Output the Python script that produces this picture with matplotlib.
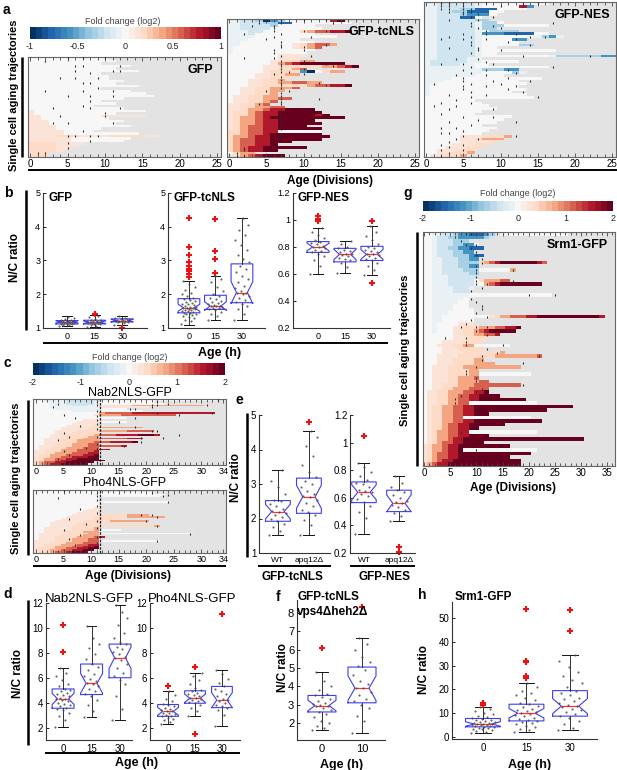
import numpy as np
import matplotlib
matplotlib.use('Agg')
import matplotlib.pyplot as plt
from matplotlib.lines import Line2D
from matplotlib.colors import Normalize
from matplotlib.cm import ScalarMappable

plt.rcParams['font.family'] = ['Liberation Sans', 'DejaVu Sans']

# colour levels used in the trajectory strings (fraction of the colour range)
LEVELS = {'a': -1.0, 'b': -0.75, 'c': -0.55, 'd': -0.35, 'e': -0.18, 'f': -0.08,
          '0': 0.0, '1': 0.1, '2': 0.22, '3': 0.38, '4': 0.55, '5': 0.75, '6': 1.0}

# ---- panel a : single cell trajectories (one string per cell, one char per division)
gfp_rows = [
    "00000000000", "000000000000", "0000000000", "00000000000000", "000000000000",
    "000000000000000", "0000000000", "00000000000", "00000000000", "0000000000000",
    "000000000000", "000000000000000", "0000000000", "00000000000000", "0000000000000000",
    "00000000000000000", "0000000000000", "0000000000", "000000000000", "000000000",
    "0000000000000", "1000000000000000", "100000000000", "1100000000111111", "11000000000",
    "1110000000000", "111000000000", "11110000000000", "1111000000", "111110000",
    "111110000000000", "111122211112222211", "11111100000000", "1111110000000", "22221111",
    "2222111", "222211", "22221", "222", "222",
]
gfp_dots = [(0, 5), (0, 7), (0, 10), (1, 2), (3, 6), (3, 7), (3, 12), (5, 6), (5, 11), (5, 12),
            (6, 8), (8, 4), (8, 6), (8, 9), (10, 7), (10, 8), (12, 9), (13, 2), (13, 7), (13, 11),
            (15, 5), (15, 8), (15, 11), (17, 8), (19, 7), (20, 3), (20, 8), (20, 12), (22, 10),
            (23, 4), (23, 10), (26, 3), (26, 5), (26, 11), (29, 7), (31, 5), (31, 6), (31, 8),
            (31, 9), (33, 8), (34, 5), (36, 5), (38, 1), (38, 2)]

tc_rows = [
    "ffeedacd00000056", "ffeeeddbb00000000", "ffeeeed00000", "ffeeee0000000",
    "fffee000002344556", "fffe00000000", "ffff00000000000", "fff0000000", "ff0000000000",
    "ff0000000123443", "f000000001234", "f00000000000", "f0000000000", "00000001111",
    "0000000111", "000000112233", "0000001345666666", "000001122222233456", "00000112234",
    "0000012222ca0233", "0000112233", "000011222", "00011223", "0001122334433",
    "00011222222344556", "0011223334", "00112233", "0011223", "0112233", "011223344",
    "0112234", "112234", "11223344", "112334556666", "1223455666666", "12234556666656",
    "1233456666666666", "123345566666", "1233455666666", "12344556666", "1234455666666",
    "2234455000000", "2234456666666", "23345566666666", "2344556666666", "234455666",
    "2344556", "23455666666", "2345566", "0233", " 2345666",
]
tc_dots = [(0, 5), (0, 7), (0, 10), (0, 13), (1, 4), (1, 7), (1, 14), (2, 3), (2, 6), (3, 6),
           (4, 6), (4, 10), (4, 13), (5, 2), (5, 7), (6, 6), (6, 11), (7, 5), (8, 7), (9, 7),
           (9, 13), (10, 7), (10, 10), (11, 6), (11, 10), (12, 6), (13, 7), (13, 11), (14, 2),
           (14, 6), (15, 7), (15, 10), (16, 7), (16, 13), (17, 7), (17, 14), (18, 7), (18, 10),
           (19, 7), (19, 8), (20, 6), (20, 10), (21, 7), (22, 7), (23, 7), (23, 12), (24, 7),
           (24, 13), (25, 7), (26, 5), (26, 8), (27, 7), (28, 7), (29, 7), (29, 12), (30, 7),
           (31, 4), (31, 7), (33, 7), (33, 11), (35, 7), (36, 7), (37, 7), (38, 7), (40, 7),
           (42, 7), (44, 7), (47, 2), (48, 2), (49, 1), (50, 1), (50, 2)]

nes_rows = [
    "ffeeeeef000000000", "ffeeeeef000005c", "ffeeeddbbb0000", "ffeeddbbb00", "ffeeedccc0",
    "ffeeebb0", "ffeeeeedd", "ffeeeeefdd0", "ffeeeeefddd000000", "ffeeeeefdd",
    "ffeeeeef0dddd", "ffeeeeefcccbbbb00", "ffeeeeef0000000fdcf", "ffeeeeef0000cc", "ffeeeeef00000",
    "ffeeeeef00000dd", "ffeeeeef00", "ffeeeeef0000000000", "ffeeeeef00", "ffeeeeef000000000fddddddcc",
    "ffeeeeff", "feeeeeff00000", "feeeeff00", "fffffff0000000000", "ffffffffdddcc",
    "ffffffff0000df", "fffffff0000", "ffff000000000000", "fff0000000000", "ff000000000000",
    "f000000000000", "f0000000000000", "f00000000000", "f0000000000000", "000000000000000",
    "0000000", "00000000", "000000000", "0000000000", "00000000",
    "0000000", "000000000000", "00000000000", "0000000000", "00000000",
    "0000000000", "000000000", "00000000", "000001112223", "00000112333",
    "0000011112", "000011122", "00011122", "0011122", "0011223", "011223",
]
nes_dots = [(0, 2), (0, 3), (0, 5), (0, 8), (0, 13), (0, 15), (1, 2), (1, 3), (1, 5), (1, 10),
            (1, 13), (2, 2), (2, 3), (2, 5), (2, 6), (3, 3), (3, 5), (3, 6), (4, 5), (4, 7),
            (5, 6), (5, 9), (6, 3), (6, 7), (7, 6), (7, 17), (8, 6), (8, 9), (9, 7), (9, 10),
            (10, 8), (11, 5), (11, 8), (11, 12), (12, 3), (12, 6), (12, 14), (12, 16), (13, 2),
            (13, 5), (13, 8), (13, 12), (14, 6), (14, 11), (15, 6), (15, 14), (16, 3), (16, 7),
            (17, 7), (17, 10), (18, 6), (19, 13), (19, 22), (20, 4), (20, 7), (21, 8), (22, 2),
            (22, 5), (22, 9), (23, 6), (23, 17), (24, 5), (24, 8), (24, 11), (25, 6), (25, 12),
            (26, 4), (26, 8), (27, 5), (27, 11), (28, 5), (28, 9), (28, 14), (29, 1), (29, 6),
            (29, 10), (30, 5), (30, 8), (30, 12), (31, 5), (31, 11), (32, 6), (32, 13), (33, 3),
            (33, 8), (34, 6), (34, 15), (35, 4), (36, 2), (36, 6), (37, 1), (37, 4), (38, 3),
            (38, 9), (40, 2), (41, 5), (41, 9), (42, 7), (43, 3), (43, 12), (44, 6), (45, 2),
            (45, 4), (46, 5), (47, 2), (47, 3), (48, 5), (48, 12), (49, 4), (49, 7), (50, 3),
            (51, 2), (51, 5), (52, 3), (53, 2), (53, 5), (54, 3), (55, 2)]

# ---- panel c
nab_rows = [
    "00ffffeeeeee0000000000000000000000", "00ffffeeeeef0000000000", "000fffeeeeef000000000000",
    "000ffffeeeff1122223333333333333", "000fffffffff111111111", "0000ffffffff00000ee",
    "0000000fffff00000000", "000000000000344444555555555555555", "00000000000133334444444444",
    "000000000000", "00000000000000000", "000000000111", "00000000111100000", "000000011111",
    "000000111112", "00000111112233333333", "000001111122", "0000111122223333344444",
    "000011122222", "00011122222344455556665", "000111222233", "00111222233344444555",
    "001112223333", "0011122233344455556", "001122233344", "01112223334444445",
    "011222333444", "01122333444455", "112223334445", "112233344455", "122333444556",
    "122334455566", "123344556666", "1233455666666", "23445566666", "2345566666",
]
nab_dots = [(0, 33), (1, 22), (2, 24), (3, 21), (3, 22), (3, 31), (4, 21), (5, 17), (5, 18),
            (7, 22), (7, 32), (8, 26), (10, 18), (12, 15), (15, 18), (17, 21), (17, 22), (19, 26),
            (21, 19), (21, 23), (23, 19), (25, 16), (2, 4), (4, 3), (8, 5), (10, 7), (14, 8),
            (18, 5), (20, 6), (22, 4), (26, 9), (28, 5), (30, 6), (32, 4), (1, 11), (3, 11),
            (6, 11), (9, 11), (11, 11), (13, 11), (16, 11), (20, 11), (24, 11), (27, 11),
            (31, 11), (34, 11)]
nab_cutoff = 12

pho_rows = [
    "000000000000", "0000000000000000000000", "000000000000000000000000", "00000000000000000000000",
    "000000000000", "000000000000", "0000000000000000000000000", "000000000000", "000000000000",
    "000000000001", "000000000011", "000000000111", "000000001111", "000000011111222223333",
    "000000111112222223333333", "0000011111122222", "000011111222223333333", "000111111222222222222",
    "000111112222", "00011112222222222222223", "001111122223", "0011111222230000",
    "001111222333", "01111122223300000000000000000", "011112222333", "0111222233345",
    "011122233344", "11112223334400000000000", "111222333444", "112223334455",
    "112233344556", "122233445566", "12233445566", "1223445666",
]
pho_dots = [(0, 5), (1, 21), (2, 24), (3, 23), (6, 24), (4, 4), (13, 19), (13, 21), (14, 22),
            (16, 20), (19, 22), (23, 28), (27, 22), (10, 8), (15, 6), (18, 9), (21, 5), (24, 8),
            (26, 6), (29, 7), (1, 11), (3, 11), (5, 11), (8, 11), (12, 11), (16, 11), (20, 11),
            (25, 11), (28, 11), (31, 11)]
pho_cutoff = 12

# ---- panel g
srm_rows = [
    "00ffeedccbbbcdef000000000000", "00feeddcccccde", "00feeeddd", "00feeeddcc0", "00feeddccbbb",
    "00feeeddcc", "00feeedddcbb", "00ffeeeddcc", "00ffeeedddd2345666666654", "00ffeeeddcc",
    "00ffeeeeddd0000003", "00ffeeeeedd", "00fffeeeeee", "00fffeeeee0233344", "00fffeeeee0034566666666",
    "00ffffeeef", "00ffffeee", "00fffffff0000000000000000", "00ffffff0", "00fffff00",
    "00ffff000", "00ffff0000", "00fff00000", "00ff0000000001233444556666666666665", "00ff000000",
    "00f0000111", "00f0001122233344556", "00f000112234566666", "000000112233445", "0000001112222",
    "000011112222", "00011122330000000", "000011122222", "0000111122222223", "00011112222222333333334",
    "000111222233", "00011122223333", "0011122233333333333", "00111222233", "001112222330000000000",
    "00111223334", "0011122333344", "0011222333444444444", "0011223334444", "0112233344556",
    "011223344556666", "01122334455666666666", "0112233440000000000000", "01223344556666666666666666666",
    "012233445566666666666666", "0122334455666", "012233440000000000000", "01223344556666666666666",
    "0122344556666666", "01223445566", "0123344550000000000000", "0123344556666",
    "0123345566666666666666666666666", "012344556666", "12334556666666666", "1233455600000000000000",
    "123445566666666666666", "12344556666666666", "1234556666666666666", "2345566666666666666",
]
srm_dots = [(0, 8), (0, 9), (1, 6), (2, 7), (3, 8), (3, 10), (4, 9), (5, 10), (6, 10), (7, 11),
            (8, 11), (9, 10), (10, 10), (10, 17), (11, 10), (12, 10), (13, 10), (13, 17), (14, 10),
            (14, 12), (15, 11), (16, 9), (17, 20), (17, 25), (18, 9), (19, 10), (20, 11), (21, 11),
            (22, 10), (23, 12), (24, 9), (25, 8), (26, 7), (26, 10), (26, 12), (27, 10), (27, 13),
            (28, 12), (29, 4), (29, 8), (30, 8), (31, 8), (31, 15), (32, 12), (33, 14), (34, 11),
            (34, 22), (35, 11), (36, 19), (37, 10), (38, 8), (39, 8), (40, 10), (41, 10), (42, 19),
            (43, 11), (44, 10), (45, 7), (46, 6), (47, 6), (48, 10), (50, 10), (52, 10), (55, 7),
            (57, 7), (58, 8), (60, 10), (62, 10)]

# ---- box plot data: N/C ratio per group (points) and box statistics [med, q1, q3, lo, hi]
b_gfp_pts = [
    [1.06, 1.08, 1.1, 1.11, 1.12, 1.13, 1.14, 1.15, 1.16, 1.17, 1.17, 1.18, 1.18, 1.19, 1.2, 1.2, 1.21, 1.22, 1.23, 1.25, 1.27, 1.3, 1.34],
    [1.04, 1.07, 1.1, 1.12, 1.13, 1.14, 1.15, 1.16, 1.17, 1.17, 1.18, 1.19, 1.2, 1.21, 1.22, 1.23, 1.25, 1.28, 1.32, 1.37],
    [1.1, 1.14, 1.17, 1.19, 1.2, 1.21, 1.22, 1.22, 1.23, 1.24, 1.25, 1.26, 1.27, 1.29, 1.31, 1.35]]
b_gfp_box = [[1.18, 1.12, 1.22, 1.05, 1.35], [1.17, 1.12, 1.23, 1.02, 1.38], [1.22, 1.18, 1.27, 1.1, 1.36]]
b_gfp_fl = [[], [1.4, 1.42], [1.0]]

b_tc_pts = [
    [1.12, 1.2, 1.25, 1.3, 1.33, 1.36, 1.38, 1.4, 1.42, 1.44, 1.45, 1.47, 1.49, 1.5, 1.52, 1.54, 1.55, 1.57, 1.58, 1.6,
     1.6, 1.62, 1.63, 1.65, 1.67, 1.7, 1.72, 1.75, 1.78, 1.8, 1.83, 1.86, 1.9, 1.95, 2.0, 2.05, 2.12, 2.2, 2.3, 2.38],
    [1.25, 1.35, 1.42, 1.48, 1.52, 1.55, 1.58, 1.6, 1.62, 1.64, 1.65, 1.66, 1.68, 1.7, 1.73, 1.76, 1.8, 1.85, 1.9, 1.95,
     2.0, 2.1, 2.2, 2.35, 2.45, 2.55],
    [1.25, 1.4, 1.55, 1.65, 1.72, 1.78, 1.82, 1.88, 1.95, 2.0, 2.05, 2.05, 2.1, 2.18, 2.25, 2.35, 2.45, 2.55, 2.65, 2.75,
     2.85, 2.95, 3.05, 3.15, 3.3, 3.45, 3.6, 3.75, 3.9, 4.05, 4.25]]
b_tc_box = [[1.6, 1.45, 1.87, 1.1, 2.38], [1.65, 1.55, 1.97, 1.25, 2.55], [2.05, 1.75, 2.9, 1.25, 4.25]]
b_tc_fl = [[2.5, 2.6, 2.7, 2.75, 2.85, 2.95, 3.15, 3.4, 4.27], [2.62, 3.05, 3.27, 4.23], []]

b_nes_pts = [
    [0.6, 0.66, 0.7, 0.73, 0.75, 0.76, 0.77, 0.78, 0.79, 0.8, 0.8, 0.81, 0.82, 0.83, 0.84, 0.85, 0.87, 0.89, 0.91, 0.94],
    [0.61, 0.65, 0.68, 0.7, 0.71, 0.72, 0.73, 0.74, 0.75, 0.75, 0.76, 0.77, 0.78, 0.79, 0.8, 0.82, 0.845],
    [0.59, 0.63, 0.66, 0.68, 0.7, 0.71, 0.72, 0.73, 0.74, 0.75, 0.75, 0.76, 0.77, 0.78, 0.79, 0.8, 0.82, 0.85, 0.88, 0.91, 0.955]]
b_nes_box = [[0.8, 0.76, 0.84, 0.6, 0.94], [0.745, 0.69, 0.79, 0.61, 0.845], [0.745, 0.7, 0.805, 0.59, 0.955]]
b_nes_fl = [[0.99, 1.01, 1.03], [], [0.53, 0.99]]

d_nab_pts = [
    [2.05, 2.6, 2.9, 3.2, 3.4, 3.5, 3.6, 3.7, 3.8, 3.9, 4.0, 4.1, 4.2, 4.3, 4.3, 4.4, 4.5, 4.6, 4.7, 4.8, 4.9, 5.0, 5.1,
     5.3, 5.5, 5.8, 6.1, 6.4, 6.75],
    [2.85, 3.3, 3.8, 4.2, 4.5, 4.7, 4.9, 5.1, 5.3, 5.5, 5.6, 5.7, 5.9, 6.1, 6.3, 6.6, 6.9, 7.1, 7.5, 7.9, 8.4, 8.7, 9.2, 10.15],
    [2.6, 3.5, 4.5, 5.5, 5.8, 6.1, 6.4, 6.8, 7.1, 7.4, 7.6, 7.7, 7.9, 8.1, 8.3, 8.5, 8.7, 8.9, 9.2, 9.6, 10.2, 10.8, 11.3, 11.8]]
d_nab_box = [[4.3, 3.55, 5.1, 2.05, 6.75], [5.55, 4.65, 7.1, 2.85, 10.15], [7.6, 6.0, 8.7, 2.6, 11.8]]
d_nab_fl = [[8.1, 10.25], [], []]

d_pho_pts = [
    [2.25, 2.45, 2.6, 2.7, 2.8, 2.9, 2.95, 3.0, 3.1, 3.15, 3.2, 3.3, 3.3, 3.4, 3.5, 3.6, 3.7, 3.8, 3.9, 4.1, 4.3, 4.6, 4.9],
    [2.95, 3.3, 3.6, 3.8, 3.95, 4.05, 4.15, 4.25, 4.3, 4.35, 4.4, 4.5, 4.6, 4.7, 4.8, 4.9, 5.0, 5.2, 5.5, 5.8, 6.1, 6.4],
    [2.1, 3.0, 3.4, 3.6, 3.7, 3.85, 4.0, 4.1, 4.2, 4.3, 4.5, 4.7, 4.9, 5.1, 5.3, 5.6, 5.9, 6.3, 6.65]]
d_pho_box = [[3.3, 2.9, 3.85, 2.25, 4.9], [4.35, 3.95, 4.95, 2.95, 6.4], [4.2, 3.6, 5.3, 2.1, 6.65]]
d_pho_fl = [[5.3], [6.85, 1.5], [11.1]]

e_tc_pts = [
    [1.52, 1.65, 1.75, 1.85, 1.92, 1.98, 2.05, 2.1, 2.15, 2.2, 2.22, 2.28, 2.35, 2.42, 2.5, 2.55, 2.7, 2.9, 3.1, 3.4],
    [1.52, 1.8, 1.95, 2.1, 2.18, 2.25, 2.35, 2.45, 2.55, 2.62, 2.65, 2.72, 2.8, 2.9, 3.0, 3.1, 3.2, 3.35, 3.55, 3.8,
     4.1, 4.35, 4.55]]
e_tc_box = [[2.2, 1.92, 2.52, 1.52, 3.4], [2.63, 2.15, 3.17, 1.52, 4.55]]
e_tc_fl = [[], [4.8]]

e_nes_pts = [
    [0.34, 0.45, 0.5, 0.54, 0.57, 0.59, 0.61, 0.63, 0.64, 0.65, 0.66, 0.68, 0.7, 0.71, 0.73, 0.76, 0.79, 0.82, 0.85],
    [0.435, 0.47, 0.49, 0.51, 0.53, 0.55, 0.56, 0.57, 0.58, 0.6, 0.62, 0.64, 0.66, 0.68, 0.71, 0.755]]
e_nes_box = [[0.64, 0.565, 0.715, 0.34, 0.85], [0.56, 0.5, 0.655, 0.435, 0.755]]
e_nes_fl = [[1.05], [0.21, 0.24]]

f_pts = [
    [1.6, 1.7, 1.85, 2.0, 2.1, 2.3, 2.5, 2.6, 2.7, 2.8, 2.9, 2.95, 3.0, 3.05, 3.1, 3.2, 3.3, 3.4, 3.5, 3.6, 3.8, 4.0, 4.3, 4.8],
    [1.45, 2.1, 2.4, 2.8, 3.0, 3.2, 3.3, 3.5, 3.7, 3.9, 3.9, 4.1, 4.3, 4.6, 4.9, 5.1, 5.3, 5.6, 6.0, 6.3, 6.65]]
f_box = [[2.95, 2.6, 3.5, 1.6, 4.8], [3.9, 3.1, 5.05, 1.45, 6.65]]
f_fl = [[6.1], [8.35]]

h_pts = [
    [1.8, 2.2, 2.6, 3.0, 3.3, 3.6, 3.8, 4.0, 4.2, 4.4, 4.5, 4.7, 4.9, 5.0, 5.2, 5.3, 5.5, 5.6, 5.8, 6.0, 6.2, 6.5, 6.8,
     7.0, 7.3, 7.6, 7.9, 8.3, 8.8, 9.5, 10.2, 11.0, 11.8, 12.8],
    [2.2, 2.8, 3.5, 4.2, 4.8, 5.5, 6.0, 6.5, 6.9, 7.3, 7.8, 8.2, 8.7, 9.2, 9.6, 10.0, 10.4, 10.9, 11.4, 12.0, 12.6, 13.2,
     13.8, 14.5, 15.5, 16.5, 17.5, 18.5, 19.5, 21.0, 22.8],
    [2.8, 4.0, 5.5, 6.8, 8.0, 8.8, 9.6, 10.5, 11.3, 12.0, 12.6, 13.0, 13.6, 14.3, 15.0, 15.8, 16.6, 17.5, 18.5, 19.5,
     21.0, 22.5, 24.0, 25.5, 27.5, 29.5, 32.0, 34.5]]
h_box = [[5.5, 4.3, 7.8, 1.8, 12.8], [10.0, 6.8, 13.8, 2.2, 22.8], [13.0, 8.8, 19.5, 2.8, 34.5]]
h_fl = [[13.5, 13.8, 14.2], [25.0, 25.5, 31.5, 32.0, 53.8], [44.5, 53.5]]

hours = ['0', '15', '30']

# ------------------------------------------------------------------ drawing
W, H = 617, 770
fig = plt.figure(figsize=(W / 100, H / 100), dpi=100)
CMAP = plt.get_cmap('RdBu_r', 31)
BG = '#e3e3e3'


def px_axes(l, t, r, b):
    return fig.add_axes([l / W, 1 - b / H, (r - l) / W, (b - t) / H])


def ftext(x, y, s, **kw):
    kw.setdefault('va', 'center')
    fig.text(x / W, 1 - y / H, s, **kw)


def fline(x0, y0, x1, y1, lw=1.5):
    fig.add_artist(Line2D([x0 / W, x1 / W], [1 - y0 / H, 1 - y1 / H], color='k', lw=lw,
                          solid_capstyle='butt'))


def heatmap(ax, rows, dots, vmax, xlim, major, tsize=7):
    n = len(rows)
    m = max(len(r) for r in rows)
    z = np.full((n, m), np.nan)
    for i, r in enumerate(rows):
        for j, ch in enumerate(r):
            if ch != ' ':
                z[i, j] = LEVELS[ch] * vmax
    ax.set_facecolor(BG)
    ax.pcolormesh(np.arange(m + 1) - 0.5, np.arange(n + 1), np.ma.masked_invalid(z),
                  cmap=CMAP, vmin=-vmax, vmax=vmax)
    rr, dd = zip(*dots)
    ax.scatter(dd, np.array(rr) + 0.5, s=3.5, marker='|', c='#2b2b2b', linewidths=0.8, zorder=3)
    ax.set_xlim(*xlim)
    ax.set_ylim(n, 0)
    ax.set_yticks([])
    ax.set_xticks(major)
    ax.set_xticks(np.arange(0, int(xlim[1]) + 1), minor=True)
    ax.tick_params(axis='x', which='both', direction='in', top=True, labelsize=tsize, pad=1.5,
                   color='#444', width=0.6)
    ax.tick_params(axis='x', which='major', length=3)
    ax.tick_params(axis='x', which='minor', length=2)
    for s in ax.spines.values():
        s.set_color('#666')
        s.set_linewidth(0.8)


def colorbar(l, t, r, b, vmax, ticks, labels, title_x, title_y):
    cax = px_axes(l, t, r, b)
    sm = ScalarMappable(norm=Normalize(-vmax, vmax), cmap=CMAP)
    cb = fig.colorbar(sm, cax=cax, orientation='horizontal')
    cb.outline.set_visible(False)
    cb.set_ticks(ticks)
    cb.set_ticklabels(labels)
    cax.tick_params(length=0, labelsize=6.5, pad=2, labelcolor='#222')
    ftext(title_x, title_y, 'Fold change (log2)', ha='center', fontsize=6.5, color='#444')


def boxes(ax, pts, box, fl, width, xlim, ylim, yticks, xlabels, tick_size=6.5):
    stats = []
    for i, p in enumerate(pts):
        med, q1, q3, lo, hi = box[i]
        half = 1.57 * (q3 - q1) / np.sqrt(len(p))
        stats.append(dict(med=med, q1=q1, q3=q3, whislo=lo, whishi=hi,
                          cilo=med - half, cihi=med + half, fliers=fl[i]))
    pos = np.arange(1, len(pts) + 1)
    ax.bxp(stats, positions=pos, widths=width, shownotches=True, capwidths=width * 0.45,
           boxprops=dict(color='#3d3df2', lw=0.8),
           medianprops=dict(color='#ff3030', lw=0.9),
           whiskerprops=dict(color='#111', lw=0.6),
           capprops=dict(color='#111', lw=0.7),
           flierprops=dict(marker='+', markeredgecolor='#ee1111', markersize=4.5,
                           markeredgewidth=1.5, clip_on=False))
    for i, p in enumerate(pts):
        k = np.arange(len(p))
        off = ((k * 0.6180339) % 1 - 0.5) * width * 0.7
        ax.scatter(pos[i] + off, p, s=2.4, c='#4a4a4a', alpha=0.85, lw=0, zorder=3)
    ax.set_xlim(*xlim)
    ax.set_ylim(*ylim)
    ax.set_yticks(yticks)
    ax.set_xticks(pos)
    ax.set_xticklabels(xlabels)
    for s in ('top', 'right'):
        ax.spines[s].set_visible(False)
    for s in ('left', 'bottom'):
        ax.spines[s].set_linewidth(0.8)
        ax.spines[s].set_color('#333')
    ax.tick_params(direction='in', length=2, width=0.6, labelsize=tick_size, pad=2)
    ax.tick_params(axis='x', length=0, pad=3)


bold = dict(fontweight='bold')

# ---------------- panel a
colorbar(30, 27, 221, 39, 1, [-1, -0.5, 0, 0.5, 1], ['-1', '-0.5', '0', '0.5', '1'], 123, 22)
ax = px_axes(28, 57, 221, 157)
heatmap(ax, gfp_rows, gfp_dots, 1, (-0.3, 25.5), np.arange(0, 26, 5))
ftext(213, 70, 'GFP', ha='right', fontsize=9, **bold)
ax = px_axes(227, 19, 419, 157)
heatmap(ax, tc_rows, tc_dots, 1, (-0.3, 25.5), np.arange(0, 26, 5))
ftext(414, 32, 'GFP-tcNLS', ha='right', fontsize=9, **bold)
ax = px_axes(424, 2, 616, 157)
heatmap(ax, nes_rows, nes_dots, 1, (-0.3, 25.5), np.arange(0, 26, 5))
ftext(610, 15, 'GFP-NES', ha='right', fontsize=9, **bold)
fline(22, 57, 22, 157, lw=1.8)
fline(28, 170, 617, 170, lw=1.4)
ftext(14, 95, 'Single cell aging trajectories', ha='center', rotation=90, fontsize=8, **bold)
ftext(330, 181, 'Age (Divisions)', ha='center', fontsize=8.5, **bold)
ftext(3, 10, 'a', fontsize=10, **bold)

# ---------------- panel b
ax = px_axes(43, 193, 147, 328)
boxes(ax, b_gfp_pts, b_gfp_box, b_gfp_fl, 0.8, (0.13, 3.9), (1, 5), [1, 2, 3, 4, 5], hours)
ax = px_axes(168, 193, 265, 328)
boxes(ax, b_tc_pts, b_tc_box, b_tc_fl, 0.82, (0.21, 3.87), (1, 5), [1, 2, 3, 4, 5], hours)
ax = px_axes(293, 193, 390, 328)
boxes(ax, b_nes_pts, b_nes_box, b_nes_fl, 0.82, (0.07, 3.67), (0.2, 1.2),
      [0.2, 0.4, 0.6, 0.8, 1.0, 1.2], hours)
ax.set_yticklabels(['0.2', '0.4', '0.6', '0.8', '1', '1.2'])
ftext(48, 198, 'GFP', fontsize=8.5, **bold)
ftext(173, 198, 'GFP-tcNLS', fontsize=8.5, **bold)
ftext(298, 198, 'GFP-NES', fontsize=8.5, **bold)
fline(26, 190, 26, 330, lw=1.8)
fline(43, 343, 388, 343, lw=1.4)
ftext(15, 258, 'N/C ratio', ha='center', rotation=90, fontsize=8.5, **bold)
ftext(220, 353, 'Age (h)', ha='center', fontsize=9, **bold)
ftext(4, 193, 'b', fontsize=10, **bold)

# ---------------- panel c
colorbar(33, 363, 225, 375, 2, [-2, -1, 0, 1, 2], ['-2', '-1', '0', '1', '2'], 130, 357)
ax = px_axes(33, 399, 226, 465)
heatmap(ax, nab_rows, nab_dots, 2, (-0.55, 34.5), [0, 5, 10, 15, 20, 25, 30, 34], 6.5)
ax.axvline(nab_cutoff - 0.3, color='#222', lw=0.9, ls=(0, (2, 1)))
ftext(130, 393, 'Nab2NLS-GFP', ha='center', fontsize=9)
ax = px_axes(33, 490, 226, 553)
heatmap(ax, pho_rows, pho_dots, 2, (-0.55, 34.5), [0, 5, 10, 15, 20, 25, 30, 34], 6.5)
ax.axvline(pho_cutoff - 0.3, color='#222', lw=0.9, ls=(0, (2, 1)))
ftext(125, 483, 'Pho4NLS-GFP', ha='center', fontsize=9)
fline(28, 400, 28, 555, lw=1.8)
fline(33, 566, 226, 566, lw=1.4)
ftext(16, 478, 'Single cell aging trajectories', ha='center', rotation=90, fontsize=8, **bold)
ftext(128, 576, 'Age (Divisions)', ha='center', fontsize=8.5, **bold)
ftext(4, 363, 'c', fontsize=10, **bold)

# ---------------- panel e
ax = px_axes(259, 415, 330, 553)
boxes(ax, e_tc_pts, e_tc_box, e_tc_fl, 0.8, (0.39, 2.68), (1, 5), [1, 2, 3, 4, 5],
      ['WT', 'apq12Δ'], tick_size=7)
ax.tick_params(axis='x', labelsize=6)
ax = px_axes(350, 415, 415, 553)
boxes(ax, e_nes_pts, e_nes_box, e_nes_fl, 0.7, (0.6, 2.46), (0.2, 1.2),
      [0.2, 0.4, 0.6, 0.8, 1.0, 1.2], ['WT', 'apq12Δ'], tick_size=7)
ax.set_yticklabels(['0.2', '0.4', '0.6', '0.8', '1', '1.2'])
ax.tick_params(axis='x', labelsize=6)
fline(247, 413, 247, 557, lw=1.8)
fline(258, 566, 331, 566, lw=1.4)
fline(350, 566, 415, 566, lw=1.4)
ftext(236, 478, 'N/C ratio', ha='center', rotation=90, fontsize=8.5, **bold)
ftext(292, 577, 'GFP-tcNLS', ha='center', fontsize=8.5, **bold)
ftext(384, 577, 'GFP-NES', ha='center', fontsize=8.5, **bold)
ftext(235, 400, 'e', fontsize=10, **bold)

# ---------------- panel g
colorbar(423, 201, 613, 211, 2, [-2, -1, 0, 1, 2], ['-2', '-1', '0', '1', '2'], 518, 194)
ax = px_axes(423, 232, 615, 466)
heatmap(ax, srm_rows, srm_dots, 2, (-0.2, 36.5), np.arange(0, 36, 5))
ftext(608, 245, 'Srm1-GFP', ha='right', fontsize=9, **bold)
fline(417, 232, 417, 466, lw=1.8)
ftext(405, 350, 'Single cell aging trajectories', ha='center', rotation=90, fontsize=8, **bold)
ftext(513, 488, 'Age (Divisions)', ha='center', fontsize=8.5, **bold)
ftext(403, 193, 'g', fontsize=10, **bold)

# ---------------- panel d
ax = px_axes(46, 603, 132, 740)
boxes(ax, d_nab_pts, d_nab_box, d_nab_fl, 0.77, (0.4, 3.42), (1, 12), [2, 4, 6, 8, 10, 12], hours, 7)
ax = px_axes(150, 603, 240, 740)
boxes(ax, d_pho_pts, d_pho_box, d_pho_fl, 0.77, (0.33, 3.67), (1, 12), [2, 4, 6, 8, 10, 12], hours, 7)
ftext(89, 599, 'Nab2NLS-GFP', ha='center', fontsize=9.5)
ftext(192, 599, 'Pho4NLS-GFP', ha='center', fontsize=9.5)
fline(28, 600, 28, 745, lw=1.8)
fline(45, 753, 240, 753, lw=1.4)
ftext(18, 673, 'N/C ratio', ha='center', rotation=90, fontsize=8.5, **bold)
ftext(137, 763, 'Age (h)', ha='center', fontsize=9, **bold)
ftext(3, 594, 'd', fontsize=10, **bold)

# ---------------- panel f
ax = px_axes(297, 600, 385, 740)
boxes(ax, f_pts, f_box, f_fl, 0.7, (0.375, 2.575), (1.07, 8.71), [2, 3, 4, 5, 6, 7, 8],
      ['0', '10'], 8)
ftext(297, 597, 'GFP-tcNLS', fontsize=8.5, **bold)
ftext(297, 612, 'vps4Δheh2Δ', fontsize=8.5, **bold)
ftext(283, 668, 'N/C ratio', ha='center', rotation=90, fontsize=8.5, **bold)
ftext(342, 765, 'Age (h)', ha='center', fontsize=9, **bold)
ftext(276, 597, 'f', fontsize=10, **bold)

# ---------------- panel h
ax = px_axes(452, 602, 597, 739)
boxes(ax, h_pts, h_box, h_fl, 0.8, (0.29, 3.62), (-0.8, 56.7), [0, 10, 20, 30, 40, 50], hours, 7)
ftext(455, 597, 'Srm1-GFP', fontsize=8.5, **bold)
ftext(424, 670, 'N/C ratio', ha='center', rotation=90, fontsize=8.5, **bold)
ftext(530, 765, 'Age (h)', ha='center', fontsize=9, **bold)
ftext(418, 595, 'h', fontsize=10, **bold)

fig.savefig('out.png', dpi=100)
